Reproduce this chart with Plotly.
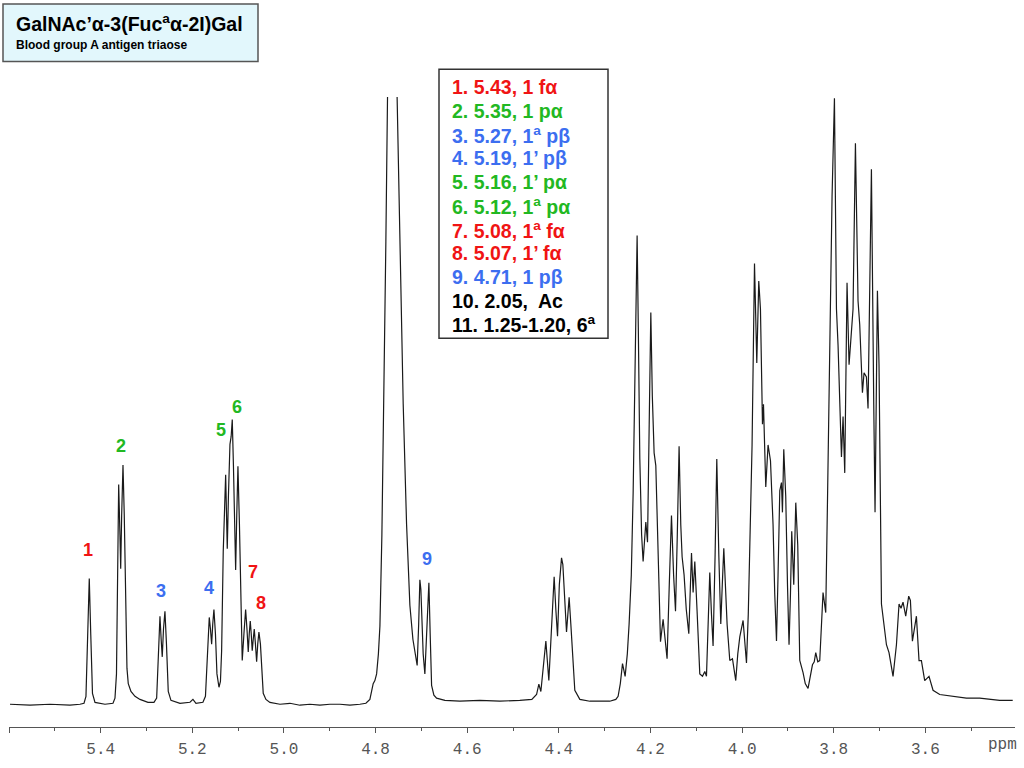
import plotly.graph_objects as go

# ---------------- data ----------------
ppm = [5.5979, 5.5543, 5.5106, 5.4670, 5.4452,
       5.4364, 5.4321, 5.4288, 5.4249, 5.4216, 5.4179, 5.4124,
       5.3906, 5.3731,
       5.3688, 5.3655, 5.3633, 5.3607, 5.3579, 5.3563, 5.3542, 5.3513, 5.3485, 5.3454, 5.3426, 5.3398, 5.3339, 5.3251, 5.3142, 5.2968, 5.2837,
       5.2778, 5.2739, 5.2706, 5.2680, 5.2656, 5.2629, 5.2597, 5.2564, 5.2525, 5.2466, 5.2269, 5.2051, 5.1986, 5.1920, 5.1768,
       5.1713, 5.1669, 5.1630, 5.1604, 5.1578, 5.1554, 5.1528, 5.1495, 5.1462, 5.1418, 5.1386,
       5.1360, 5.1325, 5.1272, 5.1237, 5.1211, 5.1178, 5.1152, 5.1128, 5.1102, 5.1054, 5.1030, 5.1004, 5.0971, 5.0938, 5.0910,
       5.0873, 5.0836, 5.0807, 5.0779, 5.0757, 5.0735, 5.0714, 5.0692, 5.0670, 5.0648, 5.0622, 5.0596, 5.0572, 5.0546, 5.0513,
       5.0480, 5.0452, 5.0393, 5.0306, 5.0087,
       4.9869, 4.9651, 4.9433, 4.9215, 4.8996, 4.8778, 4.8560, 4.8342, 4.8211, 4.8124,
       4.8052, 4.8015, 4.7977, 4.7938, 4.7905, 4.7862, 4.7833, 4.7796, 4.7775, 4.7724, 4.7644, 4.7556, 4.7469, 4.7397, 4.7323, 4.7251, 4.7185, 4.7142, 4.7092,
       4.7059, 4.7033, 4.7011, 4.6996, 4.6961, 4.6924, 4.6880, 4.6836, 4.6808, 4.6777, 4.6727, 4.6668,
       4.6487, 4.6160, 4.5723, 4.5287, 4.4851, 4.4589,
       4.4486, 4.4436, 4.4392, 4.4338, 4.4283, 4.4218, 4.4163, 4.4102, 4.4065, 4.4028, 4.3989, 4.3941, 4.3912, 4.3880, 4.3832, 4.3803, 4.3775, 4.3738, 4.3694, 4.3651,
       4.3541, 4.3323, 4.3105, 4.2887, 4.2756, 4.2706,
       4.2658, 4.2610, 4.2553, 4.2505, 4.2466, 4.2418, 4.2378, 4.2330, 4.2291, 4.2265, 4.2232, 4.2193, 4.2160, 4.2101, 4.2064, 4.2025, 4.1992, 4.1959, 4.1920, 4.1883,
       4.1829, 4.1781, 4.1724, 4.1676, 4.1637, 4.1589, 4.1541, 4.1495, 4.1453, 4.1414, 4.1375, 4.1338, 4.1309, 4.1266, 4.1218, 4.1163, 4.1104, 4.1069, 4.1032, 4.0982,
       4.0923, 4.0864, 4.0814, 4.0777, 4.0738, 4.0705, 4.0668, 4.0633, 4.0589, 4.0552, 4.0508, 4.0465, 4.0432, 4.0399, 4.0327, 4.0268, 4.0210, 4.0138, 4.0094, 4.0050,
       3.9978, 3.9904, 3.9865, 3.9832, 3.9782, 3.9729, 3.9679, 3.9636, 3.9599, 3.9555, 3.9533, 3.9483, 3.9433, 3.9380, 3.9324, 3.9287, 3.9249, 3.9215, 3.9177, 3.9140,
       3.9119, 3.9090, 3.9047, 3.9009, 3.8975, 3.8944, 3.8916, 3.8872, 3.8828, 3.8785, 3.8741, 3.8669, 3.8621, 3.8560, 3.8512, 3.8464, 3.8425, 3.8392, 3.8348, 3.8305,
       3.8233, 3.8174, 3.8137, 3.8086, 3.8036, 3.7984, 3.7940, 3.7905, 3.7868, 3.7831, 3.7796, 3.7759, 3.7709, 3.7665, 3.7628, 3.7578, 3.7526, 3.7469, 3.7432, 3.7373,
       3.7338, 3.7286, 3.7251, 3.7177, 3.7126, 3.7098, 3.7046, 3.7011, 3.6958, 3.6908, 3.6849, 3.6793, 3.6705, 3.6631, 3.6574, 3.6531, 3.6487, 3.6428, 3.6363, 3.6326,
       3.6282, 3.6195, 3.6138, 3.6086, 3.6014, 3.5920, 3.5832, 3.5686, 3.5396, 3.5104, 3.4813, 3.4523, 3.4377, 3.4093]

intensity = [0.0, -0.16, 0.0, -0.16, 0.0,
             0.16, 1.3, 9.9, 20.7, 11.4, 1.8, 0.3,
             0.0, 0.16,
             1.0, 5.0, 24.6, 36.2, 27.9, 22.3, 31.1, 39.4, 31.1, 14.8, 5.9, 3.4, 2.1, 1.3, 0.8, 0.3, 0.3,
             1.0, 7.5, 14.5, 10.7, 7.8, 12.4, 15.3, 9.9, 2.1, 0.65, 0.16, 0.33, 0.8, 0.16, 0.33,
             1.3, 8.3, 14.3, 12.4, 9.9, 13.2, 15.6, 11.6, 5.0, 2.8, 3.75,
             8.8, 25.1, 37.8, 25.6, 34.4, 42.8, 44.1, 46.9, 39.2, 22.1, 31.1, 39.2, 29.5, 14.8, 7.2,
             11.6, 15.6, 12.4, 8.6, 11.6, 13.7, 11.6, 8.8, 10.7, 12.4, 9.9, 7.0, 9.9, 11.9, 9.9,
             4.2, 1.8, 0.8, 0.3, 0.0,
             0.16, -0.16, 0.0, -0.16, 0.0, 0.0, -0.16, 0.0, 0.16, 0.8,
             3.4, 3.9, 5.0, 8.3, 12.9, 27.9, 42.8, 63.7, 76.2, 110.0, 160.0, 110.0, 76.2, 49.5, 29.6, 16.3, 10.7, 8.3, 6.4,
             13.2, 20.5, 18.9, 16.3, 8.3, 5.0, 11.6, 20.0, 11.6, 3.1, 1.5, 1.0,
             0.65, 0.5, 0.65, 0.5, 0.65, 0.8,
             1.6, 3.3, 2.1, 5.9, 10.4, 3.9, 11.6, 21.0, 15.6, 11.2, 19.7, 24.1, 23.0, 18.1, 11.9, 14.8, 17.6, 13.2, 6.7, 2.3,
             0.8, 0.5, 0.5, 0.5, 0.8, 1.3,
             3.4, 6.7, 4.6, 8.3, 13.2, 21.3, 34.7, 62.1, 77.2, 62.1, 40.4, 27.9, 23.5, 30.0, 26.7, 47.4, 64.5, 50.7, 41.4, 39.3,
             21.3, 10.3, 14.0, 9.9, 7.5, 19.7, 31.1, 21.3, 15.3, 27.9, 42.5, 29.5, 24.3, 21.3, 15.6, 11.6, 24.9, 18.4, 23.5, 15.3,
             5.0, 4.6, 5.4, 4.6, 13.2, 21.7, 14.8, 9.6, 24.6, 40.4, 24.6, 13.2, 19.7, 25.7, 13.2, 7.2, 7.5, 3.9, 8.3, 11.1,
             13.8, 6.8, 14.8, 26.2, 42.7, 72.6, 56.2, 69.7, 65.1, 46.1, 49.4, 35.8, 42.7, 40.1, 29.6, 18.1, 10.4, 21.3, 35.2, 36.5,
             31.6, 42.0, 34.2, 19.7, 9.8, 18.1, 28.5, 19.7, 33.2, 26.2, 7.2, 5.2, 3.4, 2.6, 4.6, 6.5, 7.0, 8.5, 7.0, 7.2,
             18.4, 15.1, 32.9, 59.1, 83.6, 99.8, 65.1, 59.1, 49.3, 40.7, 47.4, 38.1, 69.4, 55.9, 59.8, 65.1, 92.4, 66.4, 62.5, 51.3,
             54.6, 53.9, 48.7, 88.1, 49.3, 31.6, 68.1, 55.9, 16.5, 13.8, 9.8, 8.5, 4.6, 9.8, 16.5, 15.8, 16.8, 14.5, 17.8, 17.1,
             10.4, 14.5, 7.2, 7.2, 3.9, 4.6, 2.3, 1.6, 1.3, 1.0, 1.0, 0.8, 0.65, 0.65]

tick_values = [5.6, 5.4, 5.2, 5.0, 4.8, 4.6, 4.4, 4.2, 4.0, 3.8, 3.6]
tick_labels = ["", "5.4", "5.2", "5.0", "4.8", "4.6", "4.4", "4.2", "4.0", "3.8", "3.6"]
minor_tick_values = [5.5, 5.3, 5.1, 4.9, 4.7, 4.5, 4.3, 4.1, 3.9, 3.7, 3.5]

peak_numbers = ["1", "2", "3", "4", "5", "6", "7", "8", "9"]
peak_label_ppm = [5.4277, 5.3557, 5.2684, 5.1637, 5.1375, 5.1026, 5.0677, 5.0502, 4.6880]
peak_label_height = [25.4, 42.5, 18.7, 19.1, 45.1, 48.9, 21.8, 16.6, 23.9]
peak_kind = ["f", "p", "b", "b", "p", "p", "f", "f", "b"]

legend_lines = ["1. 5.43, 1 fα", "2. 5.35, 1 pα", "3. 5.27, 1<sup>a</sup> pβ",
                "4. 5.19, 1’ pβ", "5. 5.16, 1’ pα", "6. 5.12, 1<sup>a</sup> pα",
                "7. 5.08, 1<sup>a</sup> fα", "8. 5.07, 1’ fα", "9. 4.71, 1 pβ",
                "10. 2.05,  Ac", "11. 1.25-1.20, 6<sup>a</sup>"]
legend_kind = ["f", "p", "b", "b", "p", "p", "f", "f", "b", "k", "k"]

title_text = "GalNAc’α-3(Fuc<sup>a</sup>α-2I)Gal"
subtitle_text = "Blood group A antigen triaose"

# ---------------- styling / layout ----------------
W, H = 1024, 768
L, R, T, B = 9, 9, 97, 34
PW, PH = W - L - R, H - T - B
kind_color = {"f": "#f01414", "p": "#22b822", "b": "#3c6ef0", "k": "#000000"}


def px(x):
    return (x - L) / PW


def py(y):
    return (H - B - y) / PH


fig = go.Figure()
fig.add_trace(go.Scatter(x=ppm, y=intensity, mode="lines",
                         line=dict(color="#1a1a1a", width=1.2),
                         hoverinfo="skip", showlegend=False))

annotations = []
for n, xv, yv, k in zip(peak_numbers, peak_label_ppm, peak_label_height, peak_kind):
    annotations.append(dict(x=xv, y=yv, xref="x", yref="y", text="<b>%s</b>" % n,
                            showarrow=False, xanchor="center", yanchor="middle",
                            font=dict(family="Liberation Sans, Arial", size=18,
                                      color=kind_color[k])))

for i, (txt, k) in enumerate(zip(legend_lines, legend_kind)):
    annotations.append(dict(x=px(450), y=py(87 + 24 * i), xref="paper", yref="paper",
                            text="<b>%s</b>" % txt, showarrow=False,
                            xanchor="left", yanchor="middle",
                            font=dict(family="Liberation Sans, Arial", size=19.5,
                                      color=kind_color[k])))

annotations.append(dict(x=px(14), y=py(22), xref="paper", yref="paper",
                        text="<b>%s</b>" % title_text, showarrow=False,
                        xanchor="left", yanchor="middle",
                        font=dict(family="Liberation Sans, Arial", size=19.5, color="#000")))
annotations.append(dict(x=px(14), y=py(44), xref="paper", yref="paper",
                        text="<b>%s</b>" % subtitle_text, showarrow=False,
                        xanchor="left", yanchor="middle",
                        font=dict(family="Liberation Sans, Arial", size=12, color="#000")))
annotations.append(dict(x=px(986), y=py(752), xref="paper", yref="paper",
                        text="ppm", showarrow=False, xanchor="left", yanchor="middle",
                        font=dict(family="Liberation Mono, monospace", size=16, color="#555")))

shapes = [
    dict(type="rect", xref="paper", yref="paper", x0=px(3), x1=px(258), y0=py(61), y1=py(3),
         fillcolor="#e2f7fc", line=dict(color="#555555", width=1.5), layer="above"),
    dict(type="rect", xref="paper", yref="paper", x0=px(439), x1=px(608), y0=py(341), y1=py(69),
         fillcolor="white", line=dict(color="#333333", width=1.5), layer="above"),
]

fig.update_layout(
    width=W, height=H,
    margin=dict(l=L, r=R, t=T, b=B),
    paper_bgcolor="white", plot_bgcolor="white",
    showlegend=False,
    annotations=annotations,
    shapes=shapes,
    xaxis=dict(range=[5.6001, 3.4043], showgrid=False, zeroline=False,
               showline=True, linecolor="#555", linewidth=1,
               ticks="outside", ticklen=5, tickcolor="#555", tickwidth=1,
               tickvals=tick_values, ticktext=tick_labels,
               tickfont=dict(family="Liberation Mono, monospace", size=16, color="#555"),
               ticklabelstandoff=2,
               minor=dict(tickvals=minor_tick_values, ticks="outside", ticklen=3,
                          tickcolor="#555", showgrid=False),
               fixedrange=True),
    yaxis=dict(range=[-3.746, 100], visible=False, fixedrange=True),
)

fig.write_html("out.html",
               config={"displayModeBar": False},
               post_script="document.body.style.margin='0px';document.body.style.overflow='hidden';")
